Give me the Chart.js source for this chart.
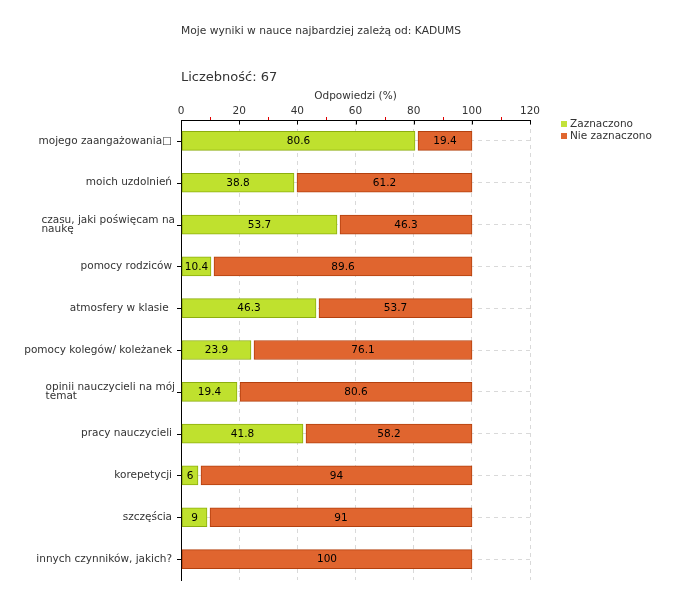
<!DOCTYPE html>
<html><head><meta charset="utf-8">
<script src="https://cdn.jsdelivr.net/npm/chart.js@4/dist/chart.umd.min.js"></script>
<style>
body{margin:0;background:#fff;}
#wrap{position:relative;width:680px;height:600px;overflow:hidden;}
canvas{position:absolute;left:0;top:0;}
.t{position:absolute;font-family:"DejaVu Sans";color:#333;white-space:nowrap;}
.sq{position:absolute;width:6px;height:6px;}
</style></head><body>
<div id="wrap">
<canvas id="c" width="680" height="600"></canvas>
<div class="t" style="left:181px;top:23.5px;font-size:10.7px;line-height:13px">Moje wyniki w nauce najbardziej zależą od: KADUMS</div>
<div class="t" style="left:181px;top:68.5px;font-size:13px;line-height:15px">Liczebność: 67</div>
<div class="sq" style="left:561px;top:121px;background:#C3E23A"></div>
<div class="t" id="lg0" style="left:570px;top:117.3px;font-size:10.5px;line-height:12px"></div>
<div class="sq" style="left:561px;top:133px;background:#E0662F"></div>
<div class="t" id="lg1" style="left:570px;top:129.3px;font-size:10.5px;line-height:12px"></div>
</div>
<script>
const categories = [
  "mojego zaangażowania\u25A1",
  "moich uzdolnień",
  ["czasu, jaki poświęcam na", "naukę"],
  "pomocy rodziców",
  "atmosfery w klasie ",
  "pomocy kolegów/ koleżanek",
  ["opinii nauczycieli na mój", "temat"],
  "pracy nauczycieli",
  "korepetycji",
  "szczęścia",
  "innych czynników, jakich?"
];
const selected    = [80.6, 38.8, 53.7, 10.4, 46.3, 23.9, 19.4, 41.8, 6, 9, null];
const notSelected = [19.4, 61.2, 46.3, 89.6, 53.7, 76.1, 80.6, 58.2, 94, 91, 100];
const seriesNames = ["Zaznaczono", "Nie zaznaczono"];
const xTicks = [0, 20, 40, 60, 80, 100, 120];
const axisTitle = "Odpowiedzi (%)";

document.getElementById('lg0').textContent = seriesNames[0];
document.getElementById('lg1').textContent = seriesNames[1];

const FONT = "DejaVu Sans";
Chart.defaults.font.family = FONT;
Chart.defaults.color = '#333';

const decor = {
  id: 'decor',
  afterDatasetsUpdate(chart) {
    const xs = chart.scales.x;
    chart.data.datasets.forEach((ds, i) => {
      chart.getDatasetMeta(i).data.forEach((el, k) => {
        const startVal = i === 0 ? 0 : (selected[k] || 0);
        const endVal = startVal + (ds.data[k] || 0);
        const b = Math.round(xs.getPixelForValue(startVal));
        el.base = b + (startVal === 0 ? 1 : 3);
        el.x = Math.round(xs.getPixelForValue(endVal));
      });
    });
  },
  afterDraw(chart) {
    const ctx = chart.ctx;
    const xs = chart.scales.x, ys = chart.scales.y;
    const top = chart.chartArea.top, left = chart.chartArea.left;
    ctx.save();
    // x-axis tick marks
    for (let v = xs.min; v <= xs.max; v += 10) {
      const px = Math.round(xs.getPixelForValue(v)) + 0.5;
      ctx.beginPath();
      if (xTicks.includes(v)) {
        ctx.strokeStyle = '#000';
        ctx.moveTo(px, top); ctx.lineTo(px, top + 4.5);
      } else {
        ctx.strokeStyle = '#e00000';
        ctx.moveTo(px, top - 3); ctx.lineTo(px, top);
      }
      ctx.lineWidth = 1;
      ctx.stroke();
    }
    // y-axis tick marks and labels
    ctx.font = '10.5px "' + FONT + '"';
    ctx.fillStyle = '#333';
    ctx.textBaseline = 'middle';
    categories.forEach((lab, i) => {
      const py = ys.getPixelForValue(i);
      const yy = Math.round(py) + 0.5;
      ctx.beginPath();
      ctx.strokeStyle = '#000';
      ctx.moveTo(left - 4, yy); ctx.lineTo(left, yy);
      ctx.stroke();
      if (Array.isArray(lab)) {
        const w = Math.max(...lab.map(s => ctx.measureText(s).width));
        const xl = left - 6 - w;
        ctx.textAlign = 'left';
        lab.forEach((s, j) => {
          ctx.fillText(s, xl, py + (j - (lab.length - 1) / 2) * 9.5);
        });
      } else {
        ctx.textAlign = 'right';
        ctx.fillText(lab, left - 9, py);
      }
    });
    // data labels
    ctx.fillStyle = '#000';
    ctx.textAlign = 'center';
    chart.data.datasets.forEach((ds, i) => {
      chart.getDatasetMeta(i).data.forEach((el, k) => {
        const v = ds.data[k];
        if (v === null || v === 0) return;
        ctx.fillText(String(v), (el.x + el.base) / 2, el.y + 0.5);
      });
    });
    ctx.restore();
  }
};

new Chart(document.getElementById('c'), {
  type: 'bar',
  data: {
    labels: categories,
    datasets: [
      { label: seriesNames[0], data: selected, backgroundColor: '#BFE12E', borderColor: '#8DAE0E', borderWidth: 1, borderSkipped: false, barThickness: 19 },
      { label: seriesNames[1], data: notSelected, backgroundColor: '#E0652F', borderColor: '#B3400E', borderWidth: 1, borderSkipped: false, barThickness: 19 }
    ]
  },
  options: {
    indexAxis: 'y',
    responsive: false,
    animation: false,
    devicePixelRatio: 1,
    layout: { padding: { top: 0, right: 150, bottom: 20, left: 0 } },
    plugins: { legend: { display: false }, tooltip: { enabled: false } },
    scales: {
      x: {
        position: 'top',
        stacked: true,
        min: 0, max: 120,
        afterFit(s) { s.height = 120; },
        afterBuildTicks(s) { s.ticks = xTicks.map(v => ({ value: v })); },
        ticks: { color: '#333', font: { size: 10.5 }, padding: 2, maxRotation: 0 },
        grid: {
          drawTicks: false,
          color: ctx => (ctx.tick && ctx.tick.value === 0) ? 'rgba(0,0,0,0)' : '#d9d9d9',
          lineWidth: 1
        },
        border: { display: true, color: '#000', width: 1, dash: [4, 4] },
        title: { display: true, text: axisTitle, color: '#333', font: { size: 10.5 }, padding: { top: 90, bottom: 0 } }
      },
      y: {
        stacked: true,
        afterFit(s) { s.width = 181; },
        ticks: { display: false },
        grid: { offset: false, drawTicks: false, color: '#d9d9d9', lineWidth: 1 },
        border: { display: true, color: '#000', width: 1, dash: [4, 4] }
      }
    }
  },
  plugins: [decor]
});
</script>
</body></html>
